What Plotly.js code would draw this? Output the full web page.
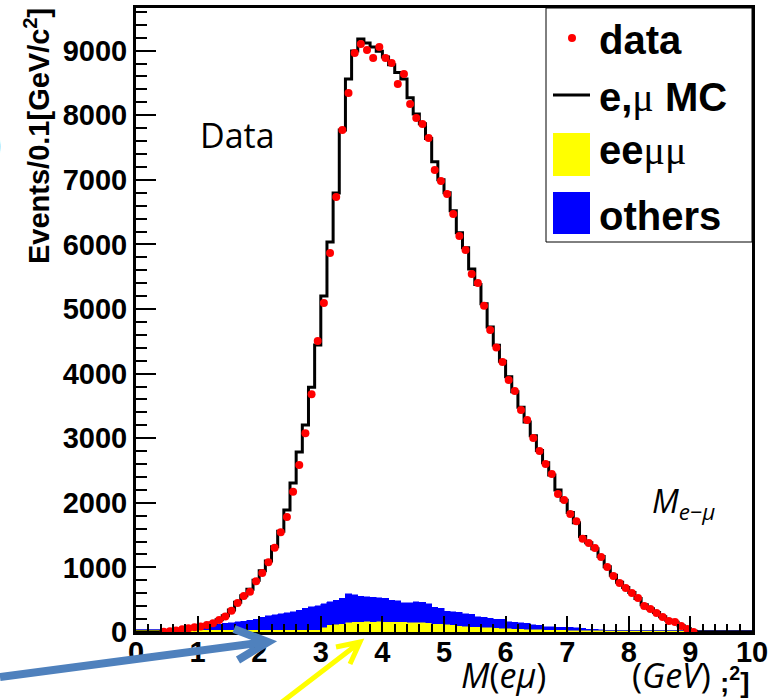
<!DOCTYPE html>
<html>
<head>
<meta charset="utf-8">
<script src="https://cdn.plot.ly/plotly-3.0.1.min.js"></script>
<style>html,body{margin:0;padding:0;background:#fff;}#chart{width:778px;height:700px;}</style>
</head>
<body>
<div id="chart"></div>
<script>
// ---- Data (bins of 0.1 GeV, from 0 to 10) ----
const binStart = 0.0;
const binWidth = 0.1;

// e,mu MC histogram (100 bins, 0.0 .. 10.0)
const mcCounts = [
  0, 0, 0, 0, 5, 12, 25, 40, 55, 70,
  88, 110, 140, 190, 250, 340, 460, 560, 660, 800,
  950, 1100, 1320, 1560, 1890, 2306, 2786, 3204, 3790, 4443,
  5201, 6037, 6796, 7771, 8560, 8994, 9180, 9118, 9056, 8990,
  8900, 8780, 8660, 8560, 8270, 8020, 7870, 7640, 7280, 7000,
  6800, 6520, 6180, 5950, 5620, 5380, 5080, 4720, 4440, 4190,
  3950, 3720, 3480, 3250, 3040, 2810, 2620, 2430, 2200, 2040,
  1850, 1690, 1480, 1380, 1290, 1170, 1010, 880, 770, 690,
  610, 520, 420, 360, 300, 235, 180, 150, 95, 50,
  10, 0, 0, 0, 0, 0, 0, 0, 0, 0
];

// ee mu mu background (100 bins)
const eemumuCounts = [
  35, 35, 35, 35, 35, 35, 35, 35, 35, 35,
  35, 35, 35, 35, 35, 35, 35, 35, 35, 35,
  35, 35, 35, 35, 35, 35, 35, 35, 35, 35,
  70, 110, 120, 130, 150, 160, 160, 165, 160, 165,
  160, 160, 155, 155, 150, 150, 150, 145, 130, 125,
  120, 110, 100, 90, 85, 80, 75, 70, 65, 60,
  55, 50, 48, 45, 42, 40, 38, 36, 35, 35,
  30, 30, 30, 30, 30, 30, 30, 30, 30, 30,
  30, 30, 30, 30, 30, 30, 30, 30, 30, 30,
  30, 30, 30, 30, 30, 30, 30, 30, 30, 30
];

// other backgrounds (100 bins), stacked on top of ee mu mu
const othersCounts = [
  0, 0, 0, 0, 0, 0, 0, 0, 0, 0,
  25, 45, 65, 85, 100, 110, 120, 135, 150, 165,
  195, 215, 230, 245, 265, 280, 305, 330, 355, 375,
  365, 360, 375, 395, 440, 415, 390, 380, 380, 365,
  360, 330, 325, 300, 300, 315, 310, 290, 250, 245,
  200, 200, 205, 195, 190, 160, 155, 145, 135, 135,
  105, 100, 92, 93, 68, 65, 42, 42, 41, 40,
  42, 35, 25, 15, 10, 8, 0, 0, 0, 0,
  0, 0, 0, 0, 0, 0, 0, 0, 0, 0,
  0, 0, 0, 0, 0, 0, 0, 0, 0, 0
];

// data points: bin centres from 0.45 to 9.05
const dataFirstCentre = 0.45;
const dataCounts = [
  5, 10, 25, 42, 57, 72,
  85, 108, 134, 186, 240, 330, 450, 557, 622, 785,
  915, 1078, 1305, 1545, 1782, 2170, 2585, 3078, 3680, 4505,
  5093, 5867, 6734, 7771, 8344, 8963, 9102, 9009, 8885, 9055,
  8885, 8808, 8483, 8638, 8173, 7957, 7864, 7647, 7152, 6982,
  6780, 6471, 6130, 5913, 5542, 5403, 5050, 4675, 4405, 4180,
  3901, 3731, 3437, 3282, 3003, 2802, 2601, 2446, 2136, 2043,
  1827, 1715, 1445, 1378, 1300, 1161, 1006, 867, 759, 681,
  604, 526, 402, 356, 294, 232, 170, 155, 93, 46,
  0
];

const xTickVals = [0,1,2,3,4,5,6,7,8,9,10];
const xTickText = ["0","1","2","3","4","5","6","7","8","9","10"];
const yTickVals = [0,1000,2000,3000,4000,5000,6000,7000,8000,9000];
const yTickText = ["0","1000","2000","3000","4000","5000","6000","7000","8000","9000"];

// ---- geometry helpers (pixel -> paper) for decorations ----
const W = 778, H = 700, ML = 136, MR = 26, MT = 8, MB = 68;
const PW = W - ML - MR, PH = H - MT - MB;
const px = p => (p - ML) / PW;
const py = p => (H - MB - p) / PH;

// step line needs one extra point at the upper edge
const mcStepY = mcCounts.concat([mcCounts[mcCounts.length - 1]]);

const traces = [
  {
    type: 'bar', name: 'ee\u03bc\u03bc',
    x0: binStart + binWidth / 2, dx: binWidth, y: eemumuCounts,
    width: binWidth,
    marker: {color: '#ffff00', line: {color: '#ffff00', width: 0.5}},
    showlegend: false, hoverinfo: 'skip'
  },
  {
    type: 'bar', name: 'others',
    x0: binStart + binWidth / 2, dx: binWidth, y: othersCounts,
    width: binWidth,
    marker: {color: '#0000ff', line: {color: '#0000ff', width: 0.5}},
    showlegend: false, hoverinfo: 'skip'
  },
  {
    type: 'scatter', mode: 'lines', name: 'e,\u03bc MC',
    x0: binStart, dx: binWidth, y: mcStepY,
    line: {shape: 'hv', color: '#000000', width: 3},
    showlegend: false, hoverinfo: 'skip'
  },
  {
    type: 'scatter', mode: 'markers', name: 'data',
    x0: dataFirstCentre, dx: binWidth, y: dataCounts,
    marker: {color: '#ff0000', size: 8, line: {width: 0}},
    showlegend: false
  }
];

const tickFont = {family: 'Liberation Sans, Arial, sans-serif', size: 29, color: '#000', weight: 'bold'};

const shapes = [
  // legend box
  {type: 'rect', xref: 'paper', yref: 'paper', x0: px(546), x1: px(752), y0: py(242), y1: py(8),
   fillcolor: '#ffffff', line: {color: '#000', width: 1}, layer: 'above'},
  // legend symbols
  {type: 'circle', xref: 'paper', yref: 'paper', x0: px(568), x1: px(576), y0: py(42), y1: py(34),
   fillcolor: '#ff0000', line: {width: 0}, layer: 'above'},
  {type: 'line', xref: 'paper', yref: 'paper', x0: px(553), x1: px(590), y0: py(95), y1: py(95),
   line: {color: '#000', width: 3}, layer: 'above'},
  {type: 'rect', xref: 'paper', yref: 'paper', x0: px(553), x1: px(590), y0: py(176), y1: py(133),
   fillcolor: '#ffff00', line: {width: 0}, layer: 'above'},
  {type: 'rect', xref: 'paper', yref: 'paper', x0: px(553), x1: px(590), y0: py(234), y1: py(192),
   fillcolor: '#0000ff', line: {width: 0}, layer: 'above'},
  // blue annotation arrow
  {type: 'path', xref: 'paper', yref: 'paper', layer: 'above',
   path: `M ${px(0)} ${py(677)} L ${px(266)} ${py(642)} M ${px(234)} ${py(629)} L ${px(268)} ${py(642)} L ${px(238)} ${py(660)}`,
   line: {color: '#4f81bd', width: 8}},
  // yellow annotation arrow
  {type: 'path', xref: 'paper', yref: 'paper', layer: 'above',
   path: `M ${px(282)} ${py(702)} L ${px(359)} ${py(643)} M ${px(336)} ${py(647)} L ${px(360)} ${py(642)} L ${px(350)} ${py(664)}`,
   line: {color: '#ffff00', width: 5}}
];

const legFont = {family: 'Liberation Sans, Arial, sans-serif', size: 40, color: '#000', weight: 'bold'};
const mu = '<span style="font-family:\'Liberation Serif\';font-weight:normal">\u03bc</span>';

const annotations = [
  {xref: 'paper', yref: 'paper', x: px(597), y: py(40), xanchor: 'left', yanchor: 'middle', showarrow: false,
   text: 'data', font: legFont},
  {xref: 'paper', yref: 'paper', x: px(597), y: py(97), xanchor: 'left', yanchor: 'middle', showarrow: false,
   text: 'e,' + mu + ' MC', font: legFont},
  {xref: 'paper', yref: 'paper', x: px(597), y: py(151), xanchor: 'left', yanchor: 'middle', showarrow: false,
   text: 'ee' + mu + mu, font: legFont},
  {xref: 'paper', yref: 'paper', x: px(597), y: py(216), xanchor: 'left', yanchor: 'middle', showarrow: false,
   text: 'others', font: legFont},
  // y axis title (ROOT style, aligned to the top)
  {xref: 'paper', yref: 'paper', x: px(37), y: py(6), xanchor: 'center', yanchor: 'top', showarrow: false,
   textangle: -90, text: 'Events/0.1[GeV/c<sup>2</sup>]',
   font: {family: 'Liberation Sans, Arial, sans-serif', size: 29, color: '#000', weight: 'bold'}},
  // in-plot labels
  {xref: 'paper', yref: 'paper', x: px(198), y: py(135), xanchor: 'left', yanchor: 'middle', showarrow: false,
   text: 'Data', font: {family: 'Open Sans, sans-serif', size: 34, color: '#000'}},
  {xref: 'paper', yref: 'paper', x: px(650), y: py(503), xanchor: 'left', yanchor: 'middle', showarrow: false,
   text: '<i>M</i><sub><i>e\u2212\u03bc</i></sub>', font: {family: 'Open Sans, sans-serif', size: 32, color: '#000'}},
  // x axis title pieces
  {xref: 'paper', yref: 'paper', x: px(503), y: py(675), xanchor: 'center', yanchor: 'middle', showarrow: false,
   text: '<i>M</i>(<i>e\u03bc</i>)', font: {family: 'Open Sans, sans-serif', size: 34, color: '#000'}},
  {xref: 'paper', yref: 'paper', x: px(671), y: py(675), xanchor: 'center', yanchor: 'middle', showarrow: false,
   text: '(<i>GeV</i>)', font: {family: 'Open Sans, sans-serif', size: 34, color: '#000'}},
  {xref: 'paper', yref: 'paper', x: px(718), y: py(680), xanchor: 'left', yanchor: 'middle', showarrow: false,
   text: ';<sup>2</sup>]', font: {family: 'Liberation Sans, Arial, sans-serif', size: 28, color: '#000', weight: 'bold'}},
  // leftover bracket at the left edge
  {xref: 'paper', yref: 'paper', x: px(5), y: py(142), xanchor: 'right', yanchor: 'middle', showarrow: false,
   text: ')', font: {family: 'Liberation Sans, Arial, sans-serif', size: 44, color: '#000'}}
];

const layout = {
  width: W, height: H,
  margin: {l: ML, r: MR, t: MT, b: MB, pad: 0},
  paper_bgcolor: '#ffffff', plot_bgcolor: '#ffffff',
  barmode: 'stack', bargap: 0,
  showlegend: false,
  xaxis: {
    range: [0, 10], autorange: false,
    tickmode: 'array', tickvals: xTickVals, ticktext: xTickText,
    ticks: 'inside', ticklen: 16, tickwidth: 2, tickcolor: '#000',
    minor: {dtick: 0.2, tick0: 0, ticks: 'inside', ticklen: 8, tickwidth: 2, tickcolor: '#000', showgrid: false},
    showline: true, linecolor: '#000', linewidth: 3, mirror: true,
    showgrid: false, zeroline: false,
    tickfont: tickFont, ticklabelstandoff: -8
  },
  yaxis: {
    range: [0, 9660], autorange: false,
    tickmode: 'array', tickvals: yTickVals, ticktext: yTickText,
    ticks: 'inside', ticklen: 20, tickwidth: 2, tickcolor: '#000',
    minor: {dtick: 200, tick0: 0, ticks: 'inside', ticklen: 11, tickwidth: 2, tickcolor: '#000', showgrid: false},
    showline: true, linecolor: '#000', linewidth: 3, mirror: true,
    showgrid: false, zeroline: false,
    tickfont: tickFont
  },
  shapes: shapes,
  annotations: annotations
};

Plotly.newPlot('chart', traces, layout, {staticPlot: true, displayModeBar: false});
</script>
</body>
</html>
